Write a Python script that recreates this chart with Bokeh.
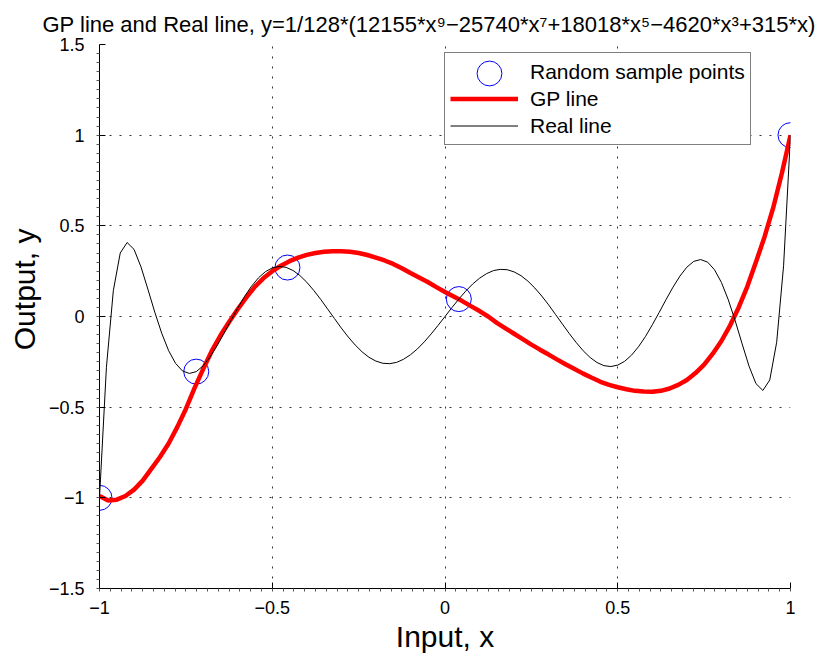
import numpy as np
from bokeh.plotting import figure
from bokeh.models import (Range1d, FixedTicker, Legend, LegendItem, Title,
                          ColumnDataSource)
from bokeh.embed import file_html
from bokeh.resources import INLINE

FONT = "Liberation Sans"
TITLE = "GP line and Real line, y=1/128*(12155*x\u2079\u221225740*x\u2077+18018*x\u2075\u22124620*x\u00b3+315*x)"

# Random samples taken from the real function
sample_x = [-1.0, -0.72, -0.456, 0.04, 1.0]
sample_y = [-1.0, -0.304, 0.27, 0.096, 1.0]

# Real line (degree-9 Legendre polynomial), sampled every 0.02
real_x = [-1.00, -0.98, -0.96, -0.94, -0.92, -0.90, -0.88, -0.86, -0.84, -0.82,
          -0.80, -0.78, -0.76, -0.74, -0.72, -0.70, -0.68, -0.66, -0.64, -0.62,
          -0.60, -0.58, -0.56, -0.54, -0.52, -0.50, -0.48, -0.46, -0.44, -0.42,
          -0.40, -0.38, -0.36, -0.34, -0.32, -0.30, -0.28, -0.26, -0.24, -0.22,
          -0.20, -0.18, -0.16, -0.14, -0.12, -0.10, -0.08, -0.06, -0.04, -0.02,
          0.00, 0.02, 0.04, 0.06, 0.08, 0.10, 0.12, 0.14, 0.16, 0.18,
          0.20, 0.22, 0.24, 0.26, 0.28, 0.30, 0.32, 0.34, 0.36, 0.38,
          0.40, 0.42, 0.44, 0.46, 0.48, 0.50, 0.52, 0.54, 0.56, 0.58,
          0.60, 0.62, 0.64, 0.66, 0.68, 0.70, 0.72, 0.74, 0.76, 0.78,
          0.80, 0.82, 0.84, 0.86, 0.88, 0.90, 0.92, 0.94, 0.96, 0.98, 1.00]
real_y = [-1.000, -0.280, 0.142, 0.350, 0.408, 0.370, 0.274, 0.151, 0.024, -0.092,
          -0.188, -0.258, -0.300, -0.314, -0.304, -0.272, -0.223, -0.162, -0.094, -0.023,
          0.046, 0.111, 0.167, 0.213, 0.247, 0.268, 0.276, 0.271, 0.254, 0.226,
          0.189, 0.144, 0.095, 0.042, -0.011, -0.064, -0.113, -0.157, -0.195, -0.225,
          -0.246, -0.258, -0.260, -0.253, -0.236, -0.211, -0.179, -0.140, -0.096, -0.049,
          0.000, 0.049, 0.096, 0.140, 0.179, 0.211, 0.236, 0.253, 0.260, 0.258,
          0.246, 0.225, 0.195, 0.157, 0.113, 0.064, 0.011, -0.042, -0.095, -0.144,
          -0.189, -0.226, -0.254, -0.271, -0.276, -0.268, -0.247, -0.213, -0.167, -0.111,
          -0.046, 0.023, 0.094, 0.162, 0.223, 0.272, 0.304, 0.314, 0.300, 0.258,
          0.188, 0.092, -0.024, -0.151, -0.274, -0.370, -0.408, -0.350, -0.142, 0.280, 1.000]

# GP predictive mean
gp_x = [-1.000, -0.975, -0.950, -0.925, -0.900, -0.875, -0.850, -0.825, -0.800, -0.775,
        -0.750, -0.725, -0.700, -0.675, -0.650, -0.625, -0.600, -0.575, -0.550, -0.525,
        -0.500, -0.475, -0.450, -0.425, -0.400, -0.375, -0.350, -0.325, -0.300, -0.275,
        -0.250, -0.225, -0.200, -0.175, -0.150, -0.125, -0.100, -0.075, -0.050, -0.025,
        0.000, 0.025, 0.050, 0.075, 0.100, 0.125, 0.150, 0.175, 0.200, 0.225,
        0.250, 0.275, 0.300, 0.325, 0.350, 0.375, 0.400, 0.425, 0.450, 0.475,
        0.500, 0.525, 0.550, 0.575, 0.600, 0.625, 0.650, 0.675, 0.700, 0.725,
        0.750, 0.775, 0.800, 0.825, 0.850, 0.875, 0.900, 0.925, 0.950, 0.975, 1.000]
gp_y = [-0.990, -1.015, -1.010, -0.990, -0.955, -0.905, -0.840, -0.775, -0.700, -0.610,
        -0.510, -0.395, -0.290, -0.190, -0.105, -0.030, 0.040, 0.105, 0.165, 0.212,
        0.250, 0.280, 0.305, 0.325, 0.340, 0.350, 0.357, 0.360, 0.360, 0.357,
        0.350, 0.339, 0.325, 0.309, 0.290, 0.266, 0.240, 0.215, 0.190, 0.162,
        0.135, 0.110, 0.085, 0.057, 0.030, 0.000, -0.035, -0.065, -0.095, -0.125,
        -0.155, -0.183, -0.210, -0.238, -0.265, -0.290, -0.315, -0.338, -0.360, -0.377,
        -0.390, -0.401, -0.410, -0.414, -0.415, -0.410, -0.397, -0.377, -0.350, -0.312,
        -0.265, -0.205, -0.135, -0.050, 0.050, 0.165, 0.300, 0.440, 0.600, 0.790, 1.000]

x_ticks = [-1.0, -0.5, 0.0, 0.5, 1.0]
x_tick_labels = ["\u22121", "\u22120.5", "0", "0.5", "1"]
y_ticks = [-1.5, -1.0, -0.5, 0.0, 0.5, 1.0, 1.5]
y_tick_labels = ["\u22121.5", "\u22121", "\u22120.5", "0", "0.5", "1", "1.5"]

p = figure(width=826, height=656, x_range=Range1d(-1, 1), y_range=Range1d(-1.5, 1.5),
           output_backend="svg", toolbar_location=None,
           min_border_left=99, min_border_right=36, min_border_top=44, min_border_bottom=68)
p.outline_line_color = None
p.background_fill_color = "white"
p.border_fill_color = "white"

# title across the top
p.title.text = TITLE
p.title.text_font = FONT
p.title.text_font_size = "22px"
p.title.text_font_style = "normal"
p.title.text_color = "black"
p.title.align = "left"
p.title.offset = -57
p.title.vertical_align = "top"
p.title.text_line_height = 0.6
p.title.standoff = 12

# axes and ticks
p.xaxis.ticker = FixedTicker(ticks=x_ticks, minor_ticks=list(np.arange(-1, 1.0001, 0.03125)))
p.yaxis.ticker = FixedTicker(ticks=y_ticks, minor_ticks=list(np.arange(-1.5, 1.5001, 0.05)))
p.xaxis.major_label_overrides = dict(zip(x_ticks, x_tick_labels))
p.yaxis.major_label_overrides = dict(zip(y_ticks, y_tick_labels))
for ax in (p.xaxis, p.yaxis):
    ax.axis_line_color = "black"
    ax.axis_line_width = 1
    ax.major_tick_in = 6
    ax.major_tick_out = 0
    ax.minor_tick_in = 0
    ax.minor_tick_out = 3
    ax.major_tick_line_color = "black"
    ax.minor_tick_line_color = "#555555"
    ax.major_label_text_font = FONT
    ax.major_label_text_font_size = "18px"
    ax.major_label_text_color = "black"
p.xaxis.major_label_standoff = 9
p.yaxis.major_label_standoff = 12

p.xaxis.axis_label = "Input, x"
p.xaxis.axis_label_text_font = FONT
p.xaxis.axis_label_text_font_size = "30px"
p.xaxis.axis_label_text_font_style = "normal"
p.xaxis.axis_label_text_color = "black"
p.xaxis.axis_label_standoff = 3

# y label sits a little above the vertical centre
ylab = Title(text="Output, y", align="right", offset=184, text_font=FONT,
             text_font_size="30px", text_font_style="normal", text_color="black")
p.add_layout(ylab, "left")

# dotted grid
for g in (p.xgrid, p.ygrid):
    g.grid_line_color = "#333333"
    g.grid_line_dash = "2 8"
    g.grid_line_width = 1

src_pts = ColumnDataSource(dict(x=sample_x, y=sample_y))
pts_slot = p.scatter("x", "y", source=src_pts, size=25, marker="circle",
                     fill_color=None, line_color=None)
pts = p.scatter("x", "y", source=src_pts, size=25, marker="circle",
                fill_color=None, line_color="#0000ff", line_width=1)
gp = p.line(gp_x, gp_y, line_color="#ff0000", line_width=4.5)
real = p.line(real_x, real_y, line_color="black", line_width=1)

legend = Legend(items=[LegendItem(label="Random sample points", renderers=[pts_slot]),
                       LegendItem(label="GP line", renderers=[gp]),
                       LegendItem(label="Real line", renderers=[real])],
                location=(345, 443), orientation="vertical",
                padding=5, spacing=0, margin=0,
                glyph_width=68, glyph_height=27, label_height=27, label_standoff=12,
                label_text_font=FONT, label_text_font_size="21px",
                label_text_baseline="middle", label_text_color="black",
                border_line_color="black", border_line_width=1,
                background_fill_color="white", background_fill_alpha=1)
p.add_layout(legend)

# larger marker for the sample-point legend entry
marker_key = Legend(items=[LegendItem(label=" ", renderers=[pts])],
                    location=(359, 484), padding=0, spacing=0, margin=0,
                    glyph_width=62, glyph_height=62, label_standoff=0,
                    label_text_font_size="1px",
                    border_line_color=None, background_fill_alpha=0)
p.add_layout(marker_key)

open("out.html", "w").write(file_html(p, INLINE))
